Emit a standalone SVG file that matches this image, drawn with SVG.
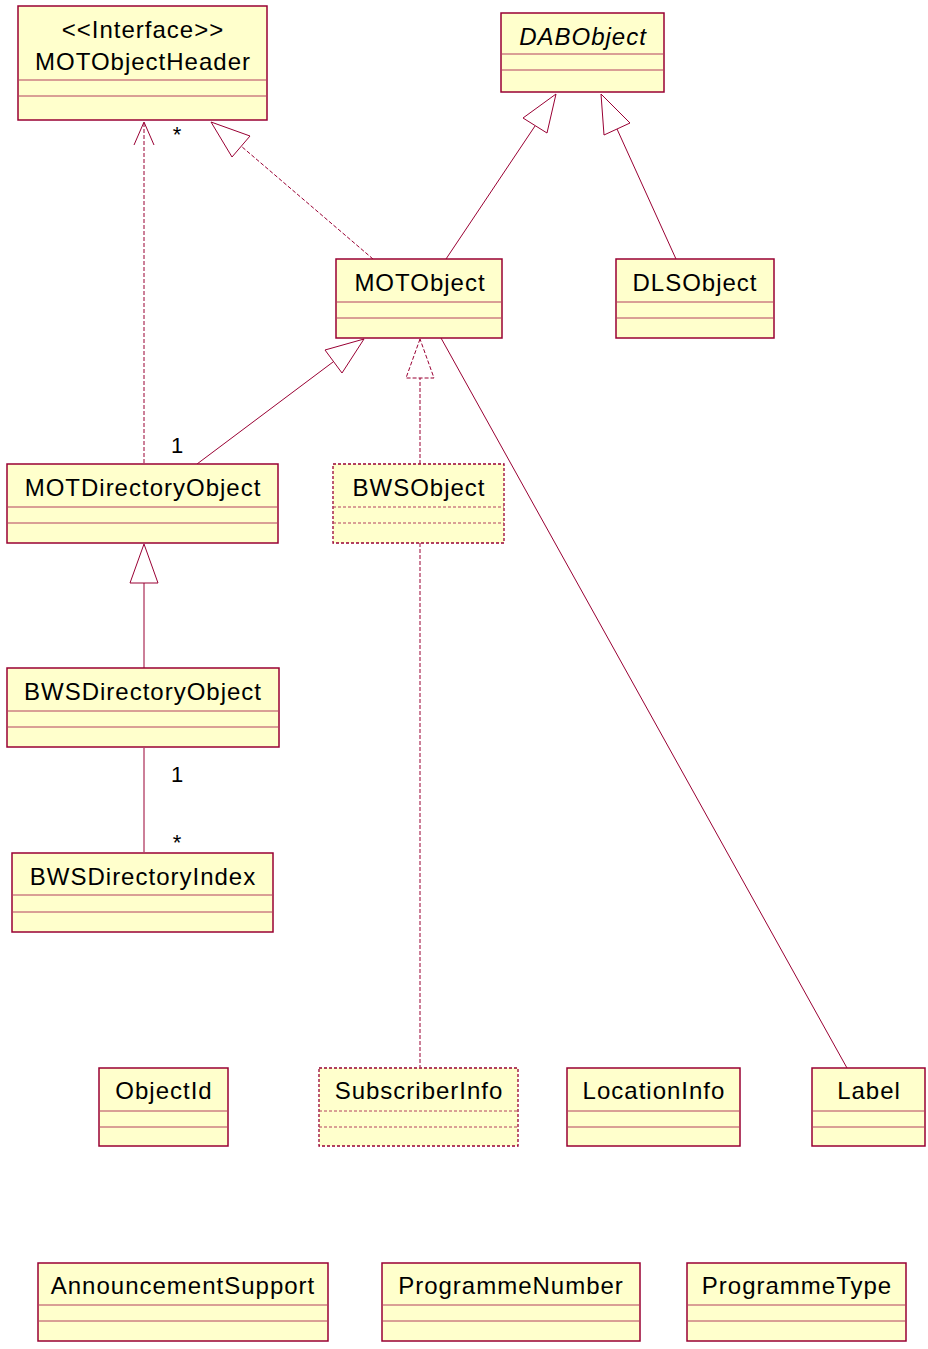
<svg xmlns="http://www.w3.org/2000/svg" width="928" height="1349" viewBox="0 0 928 1349">
  <style>
    .box { fill: #ffffcc; stroke: #990033; stroke-width: 1.5; }
    .dashbox { fill: #ffffcc; stroke: #990033; stroke-width: 1.3; stroke-dasharray: 3 2; }
    .div { stroke: #b3405f; stroke-width: 1; fill: none; }
    .divdash { stroke: #b3405f; stroke-width: 1; fill: none; stroke-dasharray: 3 2; }
    .name { font-family: "Liberation Sans", Arial, sans-serif; font-size: 24px; letter-spacing: 1px; fill: #000; text-anchor: middle; }
    .abstract { font-style: italic; }
    .mult { font-family: "Liberation Sans", Arial, sans-serif; font-size: 22px; fill: #000; text-anchor: middle; }
    .line { stroke: #990033; stroke-width: 1; fill: none; }
    .dash { stroke: #990033; stroke-width: 1; fill: none; stroke-dasharray: 4 2; }
    .tri { stroke: #990033; stroke-width: 1; fill: #fff; }
    .tridash { stroke: #990033; stroke-width: 1; fill: #fff; stroke-dasharray: 4 2; }
  </style>

  <!-- connectors -->
  <g id="connectors">
    <!-- MOTDirectoryObject uses MOTObjectHeader -->
    <line class="dash" x1="144" y1="463" x2="144" y2="122"/>
    <polyline class="line" points="134,145 144,122 154,145"/>
    <text class="mult" x="177" y="142">*</text>
    <text class="mult" x="177" y="453">1</text>

    <!-- MOTObject realizes MOTObjectHeader -->
    <line class="dash" x1="373" y1="259" x2="241" y2="146"/>
    <polygon class="tri" points="211,122 250,136 232,157"/>

    <!-- MOTObject extends DABObject -->
    <line class="line" x1="446" y1="259" x2="535" y2="126"/>
    <polygon class="tri" points="556,94 523,118 547,133"/>

    <!-- DLSObject extends DABObject -->
    <line class="line" x1="676" y1="259" x2="617" y2="129"/>
    <polygon class="tri" points="601,94 604,135 630,123"/>

    <!-- MOTDirectoryObject extends MOTObject -->
    <line class="line" x1="197" y1="464" x2="333" y2="362"/>
    <polygon class="tri" points="364,339 325,350 342,373"/>

    <!-- BWSObject extends MOTObject -->
    <line class="dash" x1="420" y1="464" x2="420" y2="378"/>
    <polygon class="tridash" points="420,339 406,378 434,378"/>

    <!-- BWSDirectoryObject extends MOTDirectoryObject -->
    <line class="line" x1="144" y1="668" x2="144" y2="583"/>
    <polygon class="tri" points="144,544 130,583 158,583"/>

    <!-- BWSDirectoryObject to BWSDirectoryIndex -->
    <line class="line" x1="144" y1="748" x2="144" y2="852"/>
    <text class="mult" x="177" y="782">1</text>
    <text class="mult" x="177" y="850">*</text>

    <!-- BWSObject to SubscriberInfo -->
    <line class="dash" x1="420" y1="543" x2="420" y2="1067"/>

    <!-- MOTObject to Label -->
    <line class="line" x1="441" y1="338" x2="847" y2="1068"/>
  </g>

  <g id="MOTObjectHeader">
    <rect class="box" x="18" y="6" width="249" height="114"/>
    <line class="div" x1="18" y1="80" x2="267" y2="80"/>
    <line class="div" x1="18" y1="96" x2="267" y2="96"/>
    <text class="name" x="143" y="38">&lt;&lt;Interface&gt;&gt;</text>
    <text class="name" x="143" y="70">MOTObjectHeader</text>
  </g>

  <g id="DABObject">
    <rect class="box" x="501" y="13" width="163" height="79"/>
    <line class="div" x1="501" y1="54" x2="664" y2="54"/>
    <line class="div" x1="501" y1="70" x2="664" y2="70"/>
    <text class="name abstract" x="583" y="45">DABObject</text>
  </g>

  <g id="MOTObject">
    <rect class="box" x="336" y="259" width="166" height="79"/>
    <line class="div" x1="336" y1="302" x2="502" y2="302"/>
    <line class="div" x1="336" y1="318" x2="502" y2="318"/>
    <text class="name" x="420" y="291">MOTObject</text>
  </g>

  <g id="DLSObject">
    <rect class="box" x="616" y="259" width="158" height="79"/>
    <line class="div" x1="616" y1="302" x2="774" y2="302"/>
    <line class="div" x1="616" y1="318" x2="774" y2="318"/>
    <text class="name" x="695" y="291">DLSObject</text>
  </g>

  <g id="MOTDirectoryObject">
    <rect class="box" x="7" y="464" width="271" height="79"/>
    <line class="div" x1="7" y1="507" x2="278" y2="507"/>
    <line class="div" x1="7" y1="523" x2="278" y2="523"/>
    <text class="name" x="143" y="496">MOTDirectoryObject</text>
  </g>

  <g id="BWSObject">
    <rect class="dashbox" x="333" y="464" width="171" height="79"/>
    <line class="divdash" x1="333" y1="507" x2="504" y2="507"/>
    <line class="divdash" x1="333" y1="523" x2="504" y2="523"/>
    <text class="name" x="419" y="496">BWSObject</text>
  </g>

  <g id="BWSDirectoryObject">
    <rect class="box" x="7" y="668" width="272" height="79"/>
    <line class="div" x1="7" y1="711" x2="279" y2="711"/>
    <line class="div" x1="7" y1="727" x2="279" y2="727"/>
    <text class="name" x="143" y="700">BWSDirectoryObject</text>
  </g>

  <g id="BWSDirectoryIndex">
    <rect class="box" x="12" y="853" width="261" height="79"/>
    <line class="div" x1="12" y1="895" x2="273" y2="895"/>
    <line class="div" x1="12" y1="912" x2="273" y2="912"/>
    <text class="name" x="143" y="885">BWSDirectoryIndex</text>
  </g>

  <g id="ObjectId">
    <rect class="box" x="99" y="1068" width="129" height="78"/>
    <line class="div" x1="99" y1="1111" x2="228" y2="1111"/>
    <line class="div" x1="99" y1="1127" x2="228" y2="1127"/>
    <text class="name" x="164" y="1099">ObjectId</text>
  </g>

  <g id="SubscriberInfo">
    <rect class="dashbox" x="319" y="1068" width="199" height="78"/>
    <line class="divdash" x1="319" y1="1111" x2="518" y2="1111"/>
    <line class="divdash" x1="319" y1="1127" x2="518" y2="1127"/>
    <text class="name" x="419" y="1099">SubscriberInfo</text>
  </g>

  <g id="LocationInfo">
    <rect class="box" x="567" y="1068" width="173" height="78"/>
    <line class="div" x1="567" y1="1111" x2="740" y2="1111"/>
    <line class="div" x1="567" y1="1127" x2="740" y2="1127"/>
    <text class="name" x="654" y="1099">LocationInfo</text>
  </g>

  <g id="Label">
    <rect class="box" x="812" y="1068" width="113" height="78"/>
    <line class="div" x1="812" y1="1111" x2="925" y2="1111"/>
    <line class="div" x1="812" y1="1127" x2="925" y2="1127"/>
    <text class="name" x="869" y="1099">Label</text>
  </g>

  <g id="AnnouncementSupport">
    <rect class="box" x="38" y="1263" width="290" height="78"/>
    <line class="div" x1="38" y1="1305" x2="328" y2="1305"/>
    <line class="div" x1="38" y1="1321" x2="328" y2="1321"/>
    <text class="name" x="183" y="1294">AnnouncementSupport</text>
  </g>

  <g id="ProgrammeNumber">
    <rect class="box" x="382" y="1263" width="258" height="78"/>
    <line class="div" x1="382" y1="1305" x2="640" y2="1305"/>
    <line class="div" x1="382" y1="1321" x2="640" y2="1321"/>
    <text class="name" x="511" y="1294">ProgrammeNumber</text>
  </g>

  <g id="ProgrammeType">
    <rect class="box" x="687" y="1263" width="219" height="78"/>
    <line class="div" x1="687" y1="1305" x2="906" y2="1305"/>
    <line class="div" x1="687" y1="1321" x2="906" y2="1321"/>
    <text class="name" x="797" y="1294">ProgrammeType</text>
  </g>
</svg>
